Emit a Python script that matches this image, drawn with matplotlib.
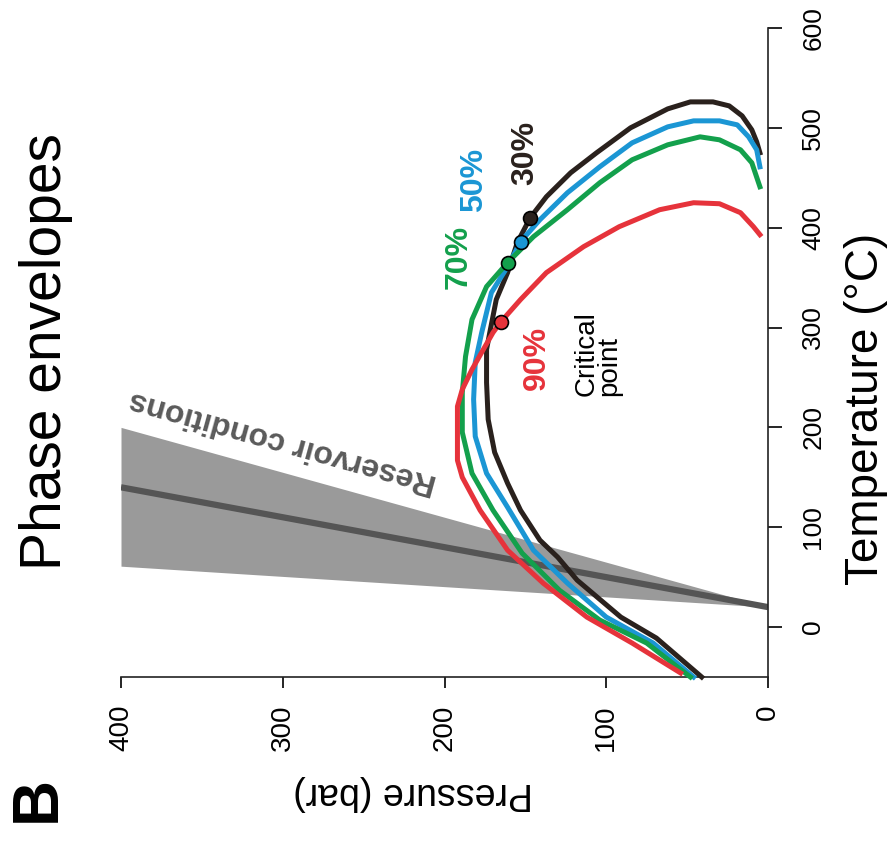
"""Phase envelopes chart, drawn rotated (pressure across, temperature up)."""

import matplotlib
matplotlib.use("Agg")
import matplotlib.pyplot as plt

plt.rcParams["font.family"] = ["Liberation Sans", "DejaVu Sans"]

# envelope traces, pressure (bar) and temperature (degC)
p30 = [41, 69, 91, 118, 130, 141, 153, 161, 169, 173, 174, 174, 172, 168, 161, 155,
       147, 137, 122, 106, 85, 62, 48, 34, 24, 16, 10, 7, 5]
t30 = [-50, -11, 10, 47, 70, 87, 117, 144, 175, 208, 245, 278, 295, 328, 355, 385,
       410, 431, 455, 475, 500, 519, 526, 526, 522, 512, 498, 486, 475]

p50 = [46, 71, 100, 124, 145, 161, 174, 181, 182, 181, 177, 171, 161, 153, 141, 124,
       104, 84, 62, 46, 30, 19, 12, 7, 5]
t50 = [-50, -16, 10, 44, 77, 120, 154, 191, 228, 265, 295, 335, 361, 386, 408, 435,
       461, 485, 501, 507, 507, 503, 491, 478, 461]

p70 = [48, 75, 104, 129, 152, 170, 183, 189, 189, 187, 183, 174, 161, 145, 124, 104,
       84, 62, 42, 30, 17, 10, 5]
t70 = [-50, -16, 7, 37, 74, 117, 154, 195, 235, 271, 308, 341, 365, 391, 418, 445,
       468, 483, 491, 488, 478, 465, 441]

p90 = [54, 84, 112, 139, 161, 178, 189, 192, 192, 189, 183, 176, 170, 165, 153, 137,
       114, 92, 67, 46, 30, 17, 9, 5]
t90 = [-46, -16, 10, 44, 77, 117, 150, 167, 221, 238, 258, 278, 295, 306, 328, 355,
       381, 401, 418, 425, 424, 415, 401, 393]

labels = ["30%", "50%", "70%", "90%"]
colors = ["#2a211d", "#1b96d4", "#13a04c", "#e6333b"]

# critical points
crit_p = [147, 153, 161, 165]
crit_t = [410, 386, 365, 306]

# where the percent labels sit
label_p = [150, 182, 191, 143]
label_t = [475, 448, 371, 270]

# reservoir band: pressure ends, upper / lower temperature, centre line
res_p = [0, 400]
res_upper = [20, 200]
res_lower = [20, 61]
res_mid = [20, 140]

p_ticks = [0, 100, 200, 300, 400]
t_ticks = [0, 100, 200, 300, 400, 500, 600]

W, H = 889, 843
fig = plt.figure(figsize=(W / 100, H / 100), dpi=100)
ax = fig.add_axes([121 / W, 1 - 677 / H, 647 / W, 649 / H])

ax.fill_between(res_p, res_lower, res_upper, color="#9a9a9a", lw=0, zorder=1)
ax.plot(res_p, res_mid, color="#555555", lw=4.5, solid_capstyle="butt", zorder=2)
ax.text(300, 186, "Reservoir conditions", rotation=164.5, rotation_mode="anchor",
        ha="center", va="center", fontsize=23, fontweight="bold", color="#5a5a5a")

curves = [(p30, t30), (p50, t50), (p70, t70), (p90, t90)]
for (pp, tt), col in zip(curves, colors):
    ax.plot(pp, tt, color=col, lw=3.6, solid_joinstyle="round", zorder=3, clip_on=False)

for cp, ct, col in zip(crit_p, crit_t, colors):
    ax.plot(cp, ct, "o", ms=10, mfc=col, mec="black", mew=1.2, zorder=4)

for lp, lt, lab, col in zip(label_p, label_t, labels, colors):
    ax.text(lp, lt, lab, rotation=90, ha="center", va="center", fontsize=23,
            fontweight="bold", color=col)

ax.text(105, 231, "Critical\npoint", rotation=90, ha="center", va="bottom",
        multialignment="left", fontsize=20, linespacing=0.85, color="black")

ax.set_xlim(400, 0)
ax.set_ylim(-50, 600)
ax.spines["top"].set_visible(False)
ax.spines["left"].set_visible(False)
for s in ("bottom", "right"):
    ax.spines[s].set_linewidth(1.2)
    ax.spines[s].set_color("#222222")

ax.set_xticks(p_ticks)
ax.set_xticklabels([str(v) for v in p_ticks])
ax.yaxis.tick_right()
ax.set_yticks(t_ticks)
ax.set_yticklabels([str(v) for v in t_ticks])
ax.tick_params(axis="x", direction="out", length=8, width=1.2, pad=12,
               labelsize=20, labelrotation=90)
ax.tick_params(axis="y", direction="out", length=10, width=1.2, pad=14,
               labelsize=19, labelrotation=90)
for lab in ax.get_yticklabels():
    lab.set_va("center")

fig.text(413 / W, 1 - 793 / H, "Pressure (bar)", rotation=180, ha="center",
         va="center", fontsize=27)
fig.text(866 / W, 1 - 409 / H, "Temperature (°C)", rotation=90, ha="center",
         va="center", fontsize=33)
fig.text(46 / W, 1 - 352 / H, "Phase envelopes", rotation=90, ha="center",
         va="center", fontsize=41)
fig.text(38 / W, 1 - 799 / H, "B", rotation=90, ha="center", va="center",
         fontsize=46, fontweight="bold")

fig.savefig("out.png", dpi=100)
